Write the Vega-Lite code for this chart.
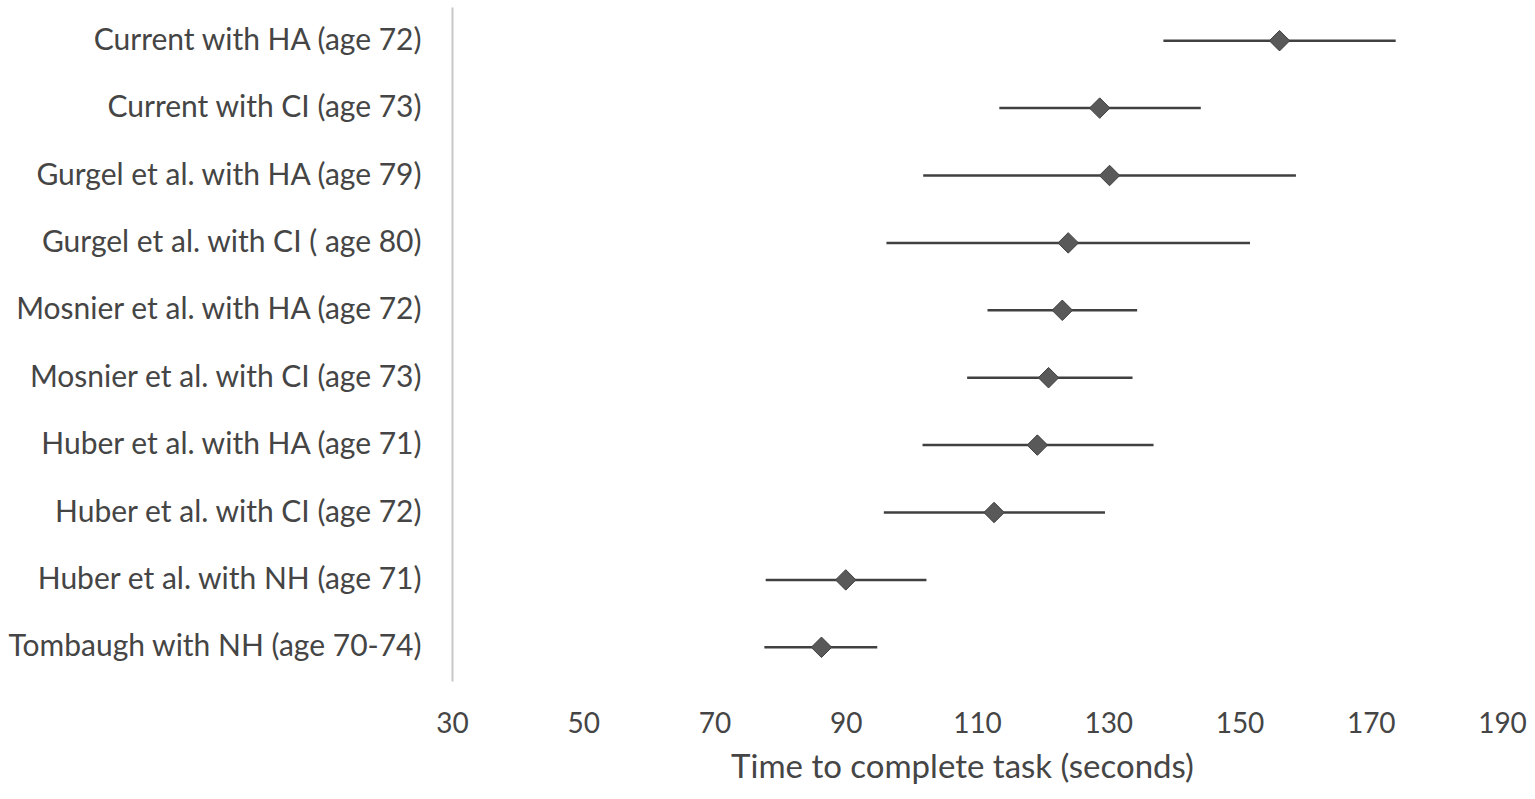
{
  "$schema": "https://vega.github.io/schema/vega-lite/v6.json",
  "autosize": {"type": "none"},
  "padding": {"left": 452, "top": 7, "right": 33, "bottom": 118},
  "width": 1050,
  "height": 674,
  "background": "white",
  "config": {
    "view": {"stroke": null},
    "font": "Lato"
  },
  "data": {
    "values": [
      {"group": "Current with HA (age 72)", "mean": 156.1, "lo": 138.4, "hi": 173.8},
      {"group": "Current with CI (age 73)", "mean": 128.7, "lo": 113.4, "hi": 144.1},
      {"group": "Gurgel et al. with HA (age 79)", "mean": 130.2, "lo": 101.8, "hi": 158.6},
      {"group": "Gurgel et al. with CI ( age 80)", "mean": 123.9, "lo": 96.2, "hi": 151.6},
      {"group": "Mosnier et al. with HA (age 72)", "mean": 123.0, "lo": 111.6, "hi": 134.4},
      {"group": "Mosnier et al. with CI (age 73)", "mean": 120.9, "lo": 108.5, "hi": 133.7},
      {"group": "Huber et al. with HA (age 71)", "mean": 119.2, "lo": 101.7, "hi": 136.9},
      {"group": "Huber et al. with CI (age 72)", "mean": 112.6, "lo": 95.8, "hi": 129.5},
      {"group": "Huber et al. with NH (age 71)", "mean": 90.0, "lo": 77.8, "hi": 102.3},
      {"group": "Tombaugh with NH (age 70-74)", "mean": 86.3, "lo": 77.6, "hi": 94.8}
    ]
  },
  "encoding": {
    "y": {
      "field": "group",
      "type": "nominal",
      "sort": null,
      "scale": {"paddingInner": 0, "paddingOuter": 0},
      "axis": {
        "title": null,
        "ticks": false,
        "tickSize": 0,
        "labelPadding": 31,
        "labelFont": "Lato",
        "labelFontSize": 30,
        "labelColor": "#454545",
        "labelLimit": 500,
        "domainColor": "#c8c8c8",
        "domainWidth": 2,
        "grid": false
      }
    }
  },
  "layer": [
    {
      "mark": {"type": "rule", "stroke": "#404040", "strokeWidth": 2.5},
      "encoding": {
        "x": {
          "field": "lo",
          "type": "quantitative",
          "scale": {"domain": [30, 190], "nice": false, "zero": false},
          "axis": {
            "values": [30, 50, 70, 90, 110, 130, 150, 170, 190],
            "title": "Time to complete task (seconds)",
            "titleFont": "Lato",
            "titleFontSize": 33,
            "titleFontWeight": "normal",
            "titleColor": "#454545",
            "titleX": 510,
            "titleY": 96,
            "titleBaseline": "alphabetic",
            "domain": false,
            "ticks": false,
            "tickSize": 0,
            "grid": false,
            "labelFlush": false,
            "labelFont": "Lato",
            "labelFontSize": 28,
            "labelColor": "#454545",
            "labelBaseline": "alphabetic",
            "labelPadding": 51
          }
        },
        "x2": {"field": "hi"}
      }
    },
    {
      "mark": {"type": "point", "shape": "diamond", "filled": true, "size": 420, "fill": "#595959", "stroke": "#404040", "strokeWidth": 1, "opacity": 1},
      "encoding": {
        "x": {"field": "mean", "type": "quantitative"}
      }
    }
  ]
}
